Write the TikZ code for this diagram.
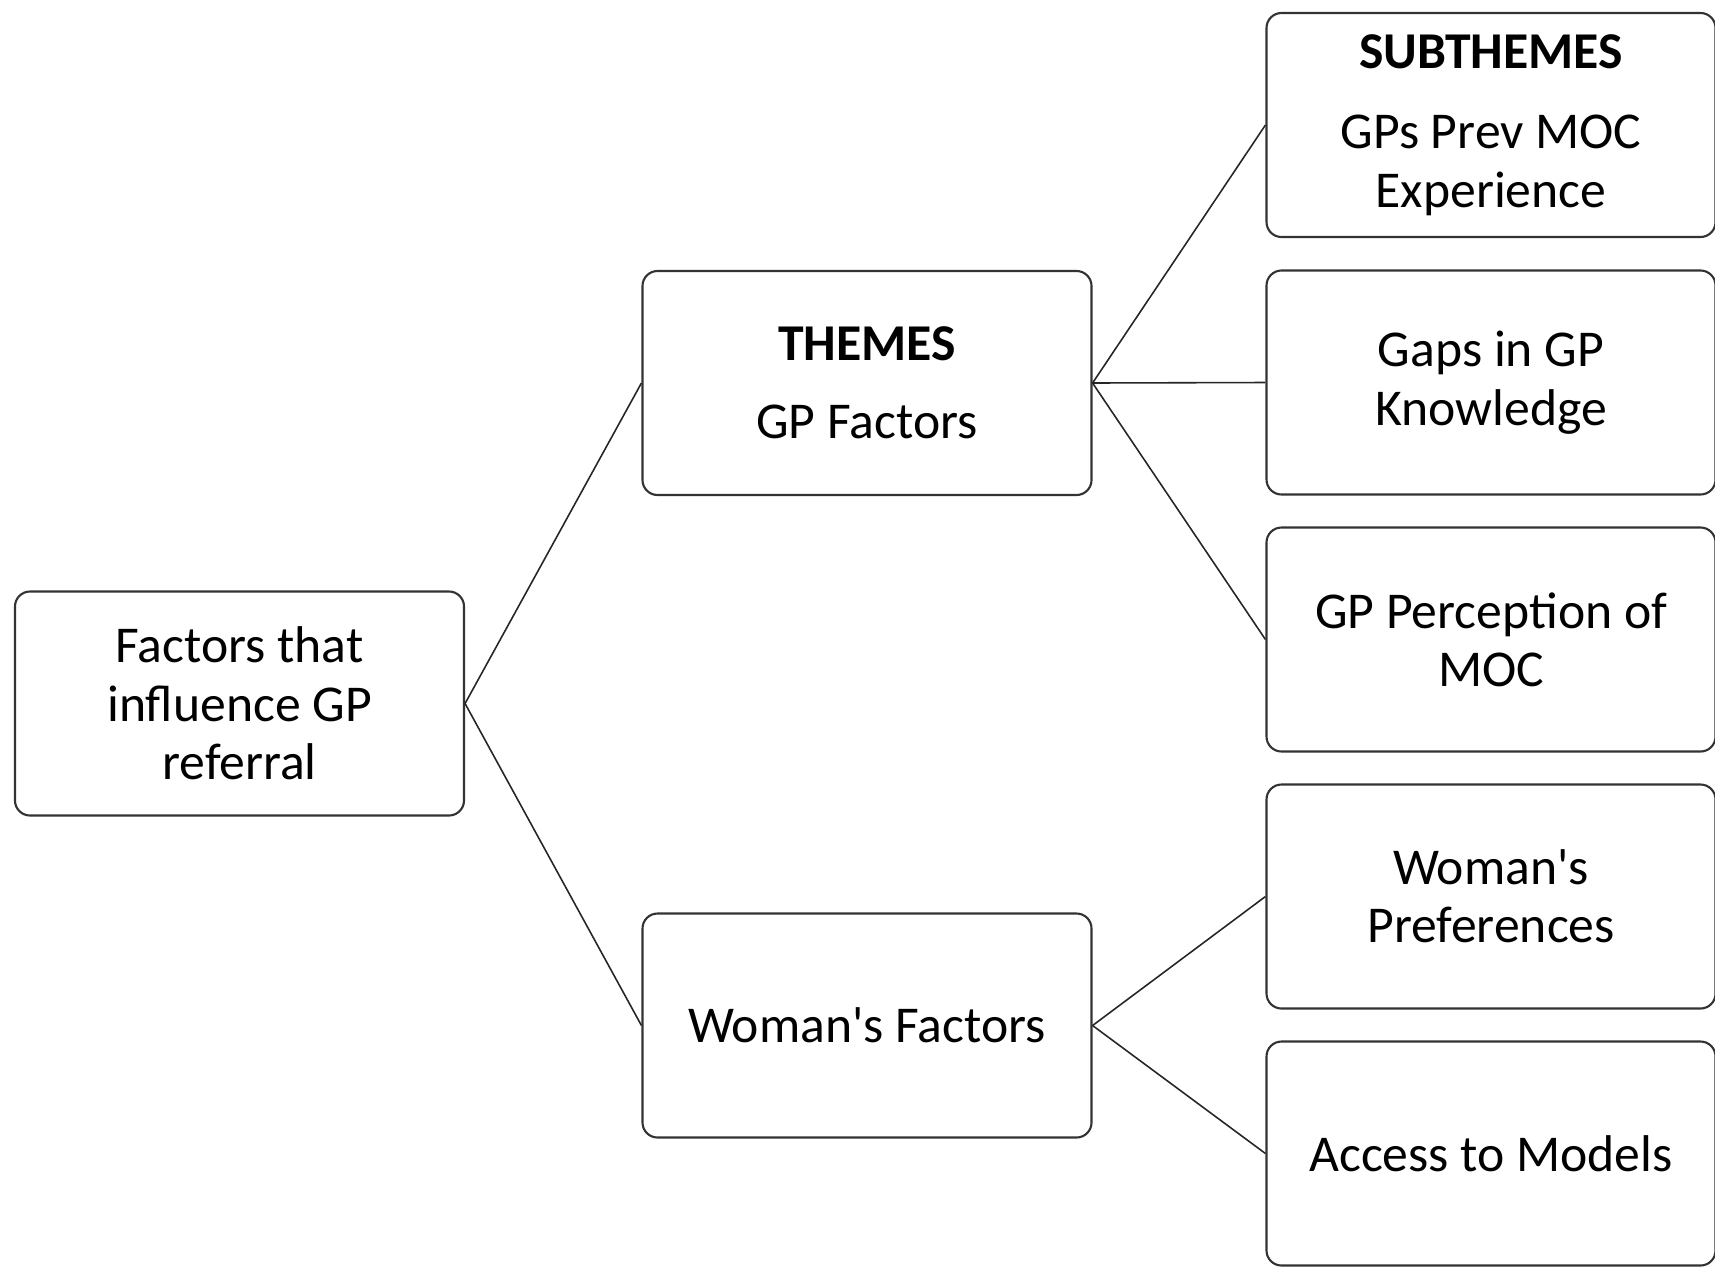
\documentclass[tikz,border=0pt]{standalone}
\usepackage{fontspec}
\setmainfont{Carlito}

\begin{document}
\begin{tikzpicture}[
  box/.style={draw=black!80, line width=0.6pt, rounded corners=0.15cm,
    minimum width=4.49cm, minimum height=2.24cm, text width=4.4cm,
    align=flush center, inner sep=0pt, font=\fontsize{14.7}{16.6}\selectfont},
  link/.style={draw=black!85, line width=0.45pt}]
\useasboundingbox (0,0) rectangle (17.15,-12.67);

\path (2.395,-7.035) node[box] (root) {Factors that\\ influence GP\\ referral};

\path (8.67,-3.83) node[box] (gp) {\textbf{THEMES}\\[0.2cm] GP Factors};
\path (8.67,-10.255) node[box] (woman) {Woman\textquotesingle s Factors};

\path (14.91,-1.25) node[box] (prev) {\textbf{SUBTHEMES}\\[0.22cm] GPs Prev MOC\\ Experience};
\path (14.91,-3.825) node[box] (gaps) {Gaps in GP\\ Knowledge};
\path (14.91,-6.395) node[box] (perc) {GP Perception of\\ MOC};
\path (14.91,-8.965) node[box] (pref) {Woman\textquotesingle s\\ Preferences};
\path (14.91,-11.535) node[box] (access) {Access to Models};

\draw[link] (root.east) -- (gp.west);
\draw[link] (root.east) -- (woman.west);

\draw[link] (gp.east) -- (prev.west);
\draw[link] (gp.east) -- (gaps.west);
\draw[link] (gp.east) -- (perc.west);

\draw[link] (woman.east) -- (pref.west);
\draw[link] (woman.east) -- (access.west);
\end{tikzpicture}
\end{document}
